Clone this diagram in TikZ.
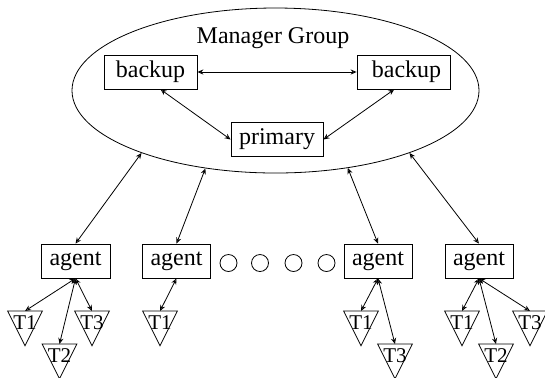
\documentclass[tikz,border=0pt]{standalone}
\usepackage{fontspec}
\setmainfont{Liberation Serif}
\usetikzlibrary{arrows.meta, shapes.geometric}
\tikzset{
  box/.style={rectangle,draw,inner sep=0pt,minimum height=17pt,font=\fontsize{12}{14}\selectfont},
  group/.style={ellipse,draw,inner sep=0pt,minimum width=203.5pt,minimum height=82.5pt},
  task/.style={rectangle,inner sep=0pt,minimum width=17pt,minimum height=17pt,text depth=6pt,
    anchor=north,font=\fontsize{10.5}{12}\selectfont,
    append after command={\pgfextra{\draw (\tikzlastnode.north west) -- (\tikzlastnode.north east)
      -- (\tikzlastnode.south) -- cycle;}}},
  dot/.style={circle,draw,inner sep=0pt,minimum size=8.5pt},
  line/.style={{Stealth[length=3pt,width=2.6pt,open]}-{Stealth[length=3pt,width=2.6pt,open]}}
}

\begin{document}
\begin{tikzpicture}[x=0.5pt,y=-0.5pt]
\useasboundingbox (0,0) rectangle (545,377);
\node[group] (mgr) at (275.5,90.5) {};
\node[font=\fontsize{12}{14}\selectfont] (title) at (273,38) {Manager Group};
\node[box, minimum width=46.5pt] (bk1) at (150.5,72) {backup};
\node[box, minimum width=46.5pt] (bk2) at (403.5,72) {\ backup};
\node[box, minimum width=46pt] (prim) at (277,139.5) {primary};
\draw[line] (bk1) -- (bk2);
\draw[line] (bk1.300) -- (prim.west);
\draw[line] (bk2.242) -- (prim.east);

\node[box, minimum width=34.5pt] (ag1) at (75.5,261) {agent};
\node[box, minimum width=34pt] (ag2) at (176.5,261) {agent};
\node[box, minimum width=34pt] (ag3) at (378,261) {agent};
\node[box, minimum width=34pt] (ag4) at (479,261) {agent};
\node[dot] (d1) at (228.5,263) {};
\node[dot] (d2) at (260,263) {};
\node[dot] (d3) at (293.5,263) {};
\node[dot] (d4) at (326.5,263) {};
\draw[line] (ag1.north) -- (mgr.205);
\draw[line] (ag2.north) -- (mgr.228);
\draw[line] (ag3.north) -- (mgr.313);
\draw[line] (ag4.north) -- (mgr.335);

% tasks
\node[task] (t11) at (25,311) {T1};
\node[task] (t12) at (59.5,344) {T2};
\node[task] (t13) at (92,311) {T3};
\node[task] (t21) at (160,311) {T1};
\node[task] (t31) at (361,311) {T1};
\node[task] (t33) at (395,344) {T3};
\node[task] (t41) at (462,311) {T1};
\node[task] (t42) at (496,344) {T2};
\node[task] (t43) at (530,311) {T3};
\draw[line] (ag1.south) -- (t11.north);
\draw[line] (ag1.south) -- (t12.north);
\draw[line] (ag1.south) -- (t13.north);
\draw[line] (ag2.south) -- (t21.north);
\draw[line] (ag3.south) -- (t31.north);
\draw[line] (ag3.south) -- (t33.north);
\draw[line] (ag4.south) -- (t41.north);
\draw[line] (ag4.south) -- (t42.north);
\draw[line] (ag4.south) -- (t43.north);
\end{tikzpicture}
\end{document}
